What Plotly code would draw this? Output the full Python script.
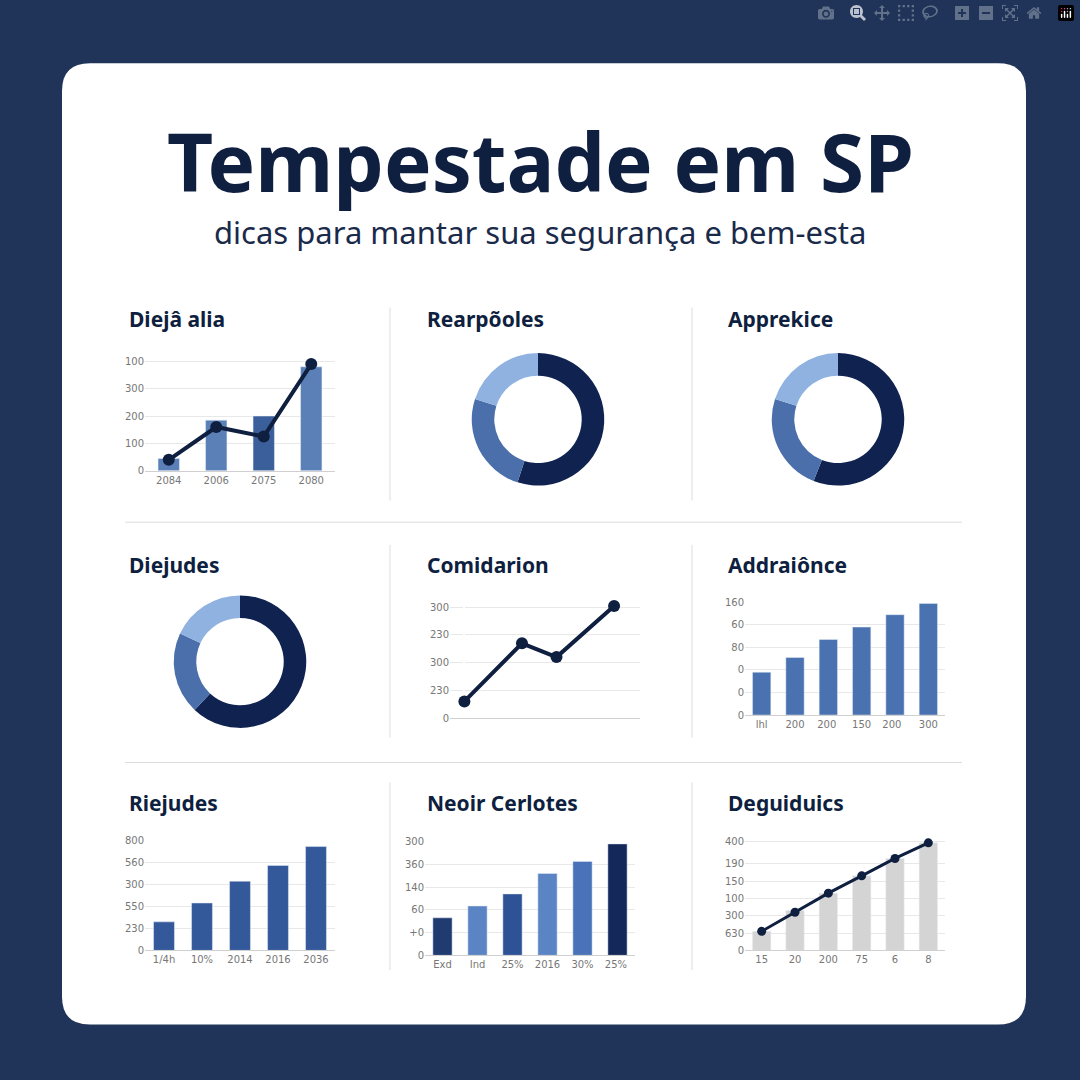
import plotly.graph_objects as go

W = 1080
NAVY = "#0f1f40"

# ---- data ----
p1_cats = ["2084", "2006", "2075", "2080"]
p1_bars = [45, 185, 200, 380]
p1_line = [40, 160, 125, 390]
p1_ticks = ["0", "100", "200", "300", "100"]

donut1 = [55, 25, 20]
donut2 = [56, 24, 20]
donut3 = [62, 20, 18]

p5_x = [0, 1, 1.6, 2.6]
p5_y = [60, 270, 220, 405]
p5_ticks = ["0", "230", "300", "230", "300"]

p6_cats = ["lhl", "200", "200 ", "150", "200  ", "300"]
p6_vals = [38, 51, 67, 78, 89, 99]
p6_ticks = ["0", "0", "0", "80", "60", "160"]

p7_cats = ["1/4h", "10%", "2014", "2016", "2036"]
p7_vals = [130, 216, 315, 387, 473]
p7_ticks = ["0", "230", "550", "300", "560", "800"]

p8_cats = ["Exd", "Ind", "25%", "2016", "30%", "25% "]
p8_vals = [165, 217, 270, 360, 413, 490]
p8_ticks = ["0", "+0", "60", "140", "360", "300"]

p9_cats = ["15", "20", "200", "75", "6", "8"]
p9_bars = [1.1, 2.3, 3.3, 4.3, 5.3, 6.2]
p9_line = [1.1, 2.2, 3.3, 4.3, 5.3, 6.2]
p9_ticks = ["0", "630", "300", "100", "150", "190", "400"]

titles = ["Diejâ alia", "Rearpõoles", "Apprekice", "Diejudes", "Comidarion",
          "Addraiônce", "Riejudes", "Neoir Cerlotes", "Deguiduics"]

fig = go.Figure()

def fx(px): return px / W
def fy(py): return 1 - py / W

def setup_axes(n, box, yticks, tickvals, yrange, xrange=None):
    x0, x1, yt, yb = box
    xa = dict(domain=[fx(x0), fx(x1)], anchor=f"y{n}", showgrid=False,
              showline=True, linecolor="#d0d0d0", ticks="", fixedrange=True,
              tickfont=dict(size=10, color="#777", family="DejaVu Sans"))
    if xrange is not None:
        xa["range"] = xrange
        xa["showticklabels"] = False
    ya = dict(domain=[fy(yb), fy(yt)], anchor=f"x{n}", range=yrange,
              tickvals=tickvals, ticktext=yticks, showgrid=True,
              gridcolor="#e8e8e8", zeroline=False, ticks="",
              tickfont=dict(size=10, color="#777", family="DejaVu Sans"))
    fig.update_layout(**{f"xaxis{n}": xa, f"yaxis{n}": ya})

# panel 1
setup_axes(1, (145, 335, 356, 470), p1_ticks, [0, 100, 200, 300, 400], [0, 412])
fig.add_bar(x=p1_cats, y=p1_bars, marker_color=["#5b80b8", "#5b80b8", "#3b5f9a", "#5b80b8"],
            width=0.45, xaxis="x1", yaxis="y1")
fig.add_scatter(x=p1_cats, y=p1_line, mode="lines+markers", line=dict(color=NAVY, width=4),
                marker=dict(size=12, color=NAVY), xaxis="x1", yaxis="y1", cliponaxis=False)

# panel 5 line
setup_axes(5, (450, 640, 603, 720), p5_ticks, [0, 100, 200, 300, 400], [0, 418],
           xrange=[-0.25, 3.05])
fig.add_scatter(x=p5_x, y=p5_y, mode="lines+markers", line=dict(color=NAVY, width=4),
                marker=dict(size=12, color=NAVY), xaxis="x5", yaxis="y5", cliponaxis=False)

# panel 6
setup_axes(6, (745, 945, 603, 717), p6_ticks, [0, 20, 40, 60, 80, 100], [0, 100])
fig.add_bar(x=p6_cats, y=p6_vals, marker_color="#4a72b0", width=0.55, xaxis="x6", yaxis="y6")

# panel 7
setup_axes(7, (145, 335, 844, 955), p7_ticks, [0, 100, 200, 300, 400, 500], [0, 500])
fig.add_bar(x=p7_cats, y=p7_vals, marker_color="#34599a", width=0.55, xaxis="x7", yaxis="y7")

# panel 8
setup_axes(8, (425, 635, 845, 960), p8_ticks, [0, 100, 200, 300, 400, 500], [0, 500])
fig.add_bar(x=p8_cats, y=p8_vals,
            marker_color=["#1f3b70", "#5b84c4", "#2e5296", "#5b84c4", "#4a72b8", "#14295a"],
            width=0.55, xaxis="x8", yaxis="y8")

# panel 9
setup_axes(9, (745, 945, 841, 955), p9_ticks, [0, 1, 2, 3, 4, 5, 6.3], [0, 6.5])
fig.add_bar(x=p9_cats, y=p9_bars, marker_color="#d4d4d4", width=0.55, xaxis="x9", yaxis="y9")
fig.add_scatter(x=p9_cats, y=p9_line, mode="lines+markers", line=dict(color=NAVY, width=3),
                marker=dict(size=9, color=NAVY), xaxis="x9", yaxis="y9", cliponaxis=False)

def donut(vals, cx, cy, r):
    fig.add_pie(values=vals, hole=0.66, sort=False, direction="clockwise", rotation=0,
                marker=dict(colors=["#0f2250", "#4a6faa", "#8fb2e0"]),
                textinfo="none", showlegend=False,
                domain=dict(x=[fx(cx - r), fx(cx + r)], y=[fy(cy + r), fy(cy - r)]))

donut(donut1, 538, 418, 67)
donut(donut2, 838, 418, 67)
donut(donut3, 240, 663, 67)

# rounded card
x0, x1, y0, y1, r = fx(62), fx(1026), fy(1030), fy(58), 28 / W
card = (f"M {x0+r},{y0} L {x1-r},{y0} Q {x1},{y0} {x1},{y0+r} L {x1},{y1-r} "
        f"Q {x1},{y1} {x1-r},{y1} L {x0+r},{y1} Q {x0},{y1} {x0},{y1-r} "
        f"L {x0},{y0+r} Q {x0},{y0} {x0+r},{y0} Z")
shapes = [dict(type="path", path=card, xref="paper", yref="paper",
               fillcolor="white", line=dict(width=0), layer="below")]
for x in (390, 692):
    for a, b in ((305, 500), (545, 740), (785, 975)):
        shapes.append(dict(type="line", xref="paper", yref="paper", x0=fx(x), x1=fx(x),
                           y0=fy(a), y1=fy(b), line=dict(color="#dddddd", width=1)))
for y in (522, 765):
    shapes.append(dict(type="line", xref="paper", yref="paper", x0=fx(125), x1=fx(962),
                       y0=fy(y), y1=fy(y), line=dict(color="#dddddd", width=1)))

ann = [
    dict(text="<b>Tempestade em SP</b>", x=0.5, y=fy(156), font=dict(size=80, color=NAVY, family="Noto Sans")),
    dict(text="dicas para mantar sua segurança e bem-esta", x=0.5, y=fy(229),
         font=dict(size=31, color="#1a2a4a", family="Noto Sans")),
]
tpos = [(127, 317), (425, 317), (726, 317), (127, 565), (425, 565), (726, 565),
        (127, 806), (425, 806), (726, 806)]
for t, (x, y) in zip(titles, tpos):
    ann.append(dict(text=f"<b>{t}</b>", x=fx(x), y=fy(y), xanchor="left",
                    font=dict(size=21, color=NAVY, family="Noto Sans")))
for a in ann:
    a.update(xref="paper", yref="paper", showarrow=False)
    a.setdefault("xanchor", "center")
    a["yanchor"] = "middle"

fig.update_layout(width=W, height=W, margin=dict(l=0, r=0, t=0, b=0),
                  paper_bgcolor="#1f3458", plot_bgcolor="rgba(0,0,0,0)",
                  showlegend=False, shapes=shapes, annotations=ann, bargap=0.4)
fig.write_html("out.html", post_script="document.body.style.margin='0';")
